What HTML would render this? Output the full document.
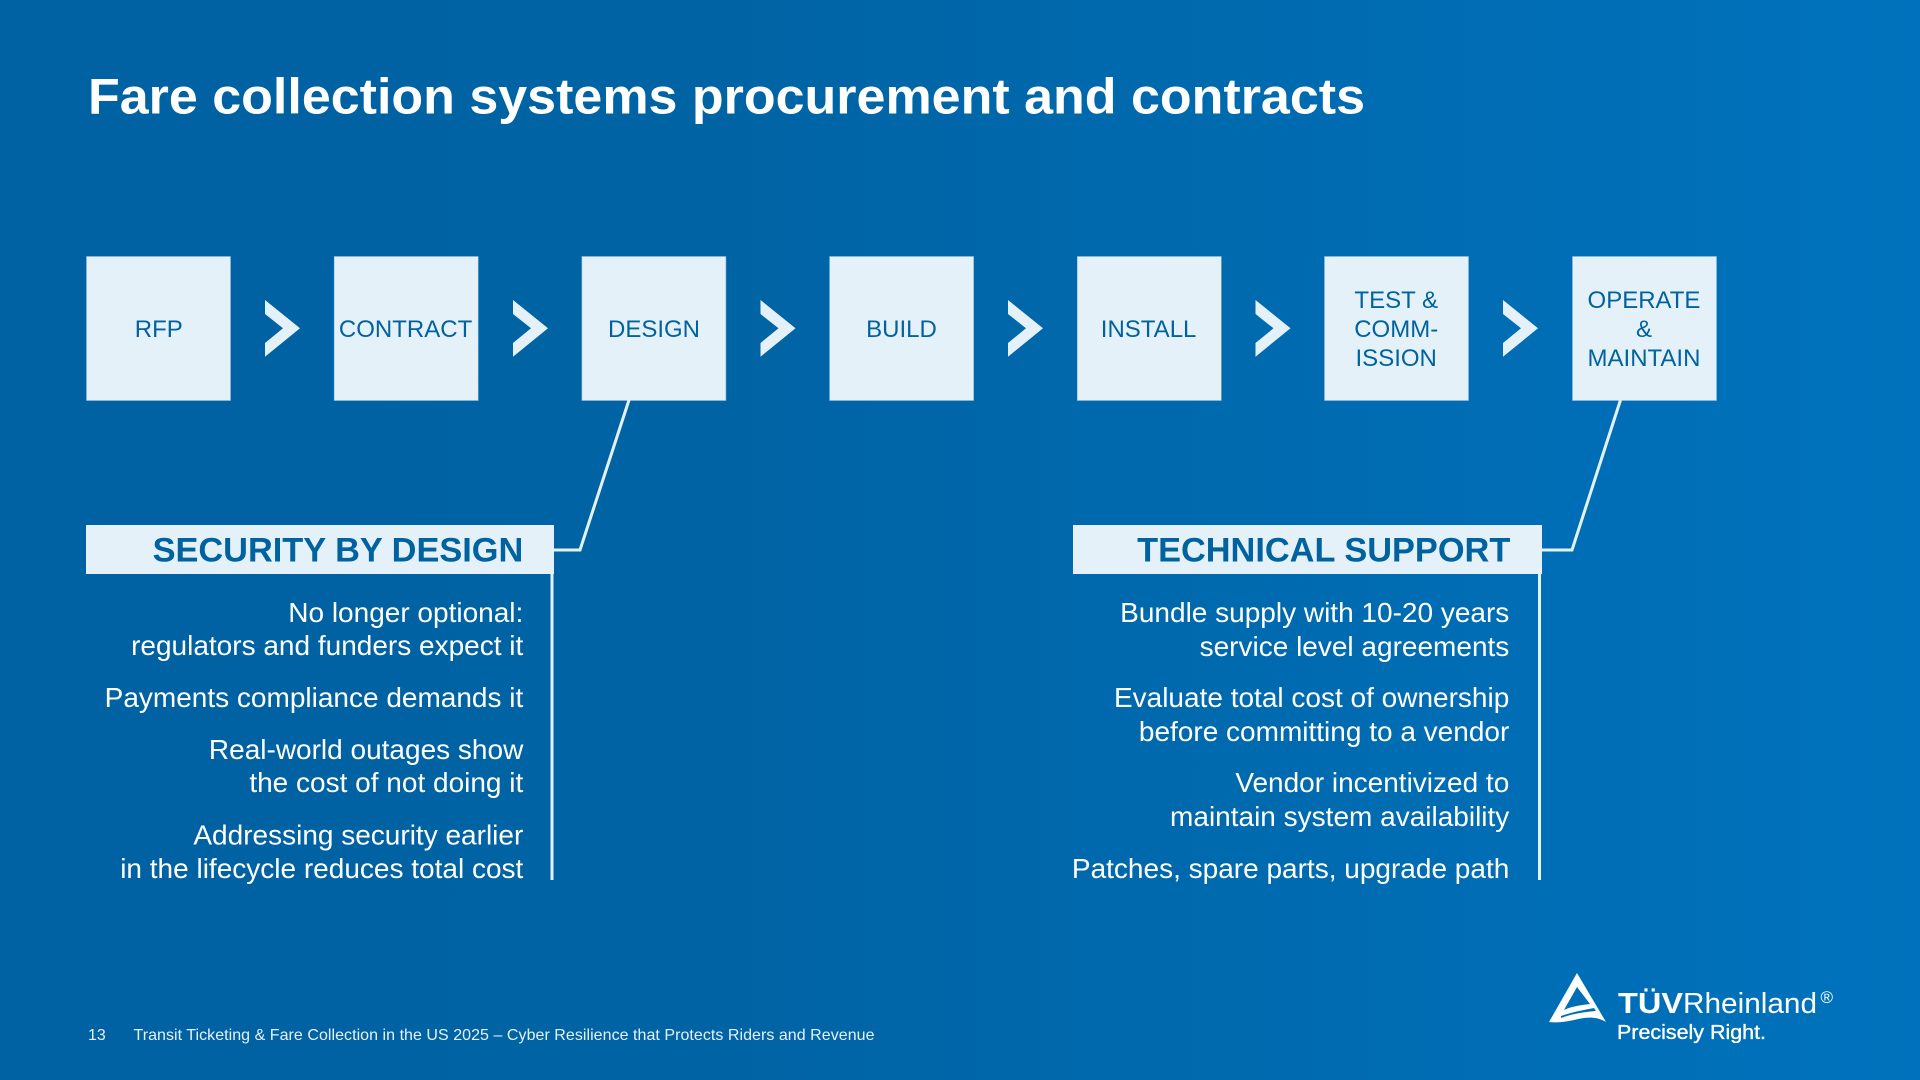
<!DOCTYPE html>
<html lang="en">
<head>
<meta charset="utf-8">
<title>Fare collection systems procurement and contracts</title>
<style>
html,body{margin:0;padding:0;width:1920px;height:1080px;overflow:hidden;background:#0068ac}
svg{display:block;position:absolute;left:0;top:0}
text{font-family:"Liberation Sans",Arial,sans-serif}
.box{fill:#e5f1f9;stroke:#8fbde0;stroke-width:0.6}
.bt{fill:#00639f;font-size:24px;text-anchor:middle}
.chev{fill:#e5f1f9}
.hd{fill:#e5f1f9}
.ht{fill:#00639f;font-size:34.35px;font-weight:bold;text-anchor:end}
.b{fill:#fff;font-size:28px;text-anchor:end}
.ln{fill:none;stroke:#e5f1f9;stroke-width:3}
</style>
</head>
<body>
<svg width="1920" height="1080" viewBox="0 0 1920 1080" xmlns="http://www.w3.org/2000/svg">
<defs>
<linearGradient id="bg" x1="0" y1="0" x2="1" y2="0">
<stop offset="0" stop-color="#0062a2"/>
<stop offset="0.35" stop-color="#0063a3"/>
<stop offset="1" stop-color="#0072bd"/>
</linearGradient>
</defs>
<rect width="1920" height="1080" fill="url(#bg)"/>

<text x="88" y="113.5" fill="#fff" font-size="50" font-weight="bold" textLength="1277" lengthAdjust="spacingAndGlyphs">Fare collection systems procurement and contracts</text>

<rect class="box" x="86.5" y="256.5" width="144" height="144"/>
<rect class="box" x="334.2" y="256.5" width="144" height="144"/>
<rect class="box" x="581.9" y="256.5" width="144" height="144"/>
<rect class="box" x="829.6" y="256.5" width="144" height="144"/>
<rect class="box" x="1077.3" y="256.5" width="144" height="144"/>
<rect class="box" x="1324.5" y="256.5" width="144" height="144"/>
<rect class="box" x="1572.5" y="256.5" width="144" height="144"/>

<text class="bt" x="158.8" y="337">RFP</text>
<text class="bt" x="405.6" y="337">CONTRACT</text>
<text class="bt" x="654" y="337">DESIGN</text>
<text class="bt" x="901.5" y="337">BUILD</text>
<text class="bt" x="1148.6" y="337">INSTALL</text>
<text class="bt" x="1396.2" y="308">TEST &amp;</text>
<text class="bt" x="1396.2" y="337">COMM-</text>
<text class="bt" x="1396.2" y="366">ISSION</text>
<text class="bt" x="1644" y="308">OPERATE</text>
<text class="bt" x="1644" y="337">&amp;</text>
<text class="bt" x="1644" y="366">MAINTAIN</text>

<g class="chev">
<path d="M265 300 L300 328.3 L265 356.7 L265 343 L283 328.3 L265 314 Z"/>
<path d="M513 300 L548 328.3 L513 356.7 L513 343 L531 328.3 L513 314 Z"/>
<path d="M760.5 300 L795.5 328.3 L760.5 356.7 L760.5 343 L778.5 328.3 L760.5 314 Z"/>
<path d="M1008 300 L1043 328.3 L1008 356.7 L1008 343 L1026 328.3 L1008 314 Z"/>
<path d="M1255.5 300 L1290.5 328.3 L1255.5 356.7 L1255.5 343 L1273.5 328.3 L1255.5 314 Z"/>
<path d="M1503 300 L1538 328.3 L1503 356.7 L1503 343 L1521 328.3 L1503 314 Z"/>
</g>

<path class="ln" d="M629 400 L580 550 L553 550"/>
<path class="ln" d="M552 574 L552 880"/>
<path class="ln" d="M1620.5 400 L1572 550 L1541 550"/>
<path class="ln" d="M1539.5 574 L1539.5 880"/>

<rect class="hd" x="86" y="525" width="468" height="49"/>
<rect class="hd" x="1073" y="525" width="469" height="49"/>
<text class="ht" x="523.3" y="561.5">SECURITY BY DESIGN</text>
<text class="ht" x="1510.3" y="561.5">TECHNICAL SUPPORT</text>

<text class="b" x="523.3" y="622">No longer optional:</text>
<text class="b" x="523.3" y="655">regulators and funders expect it</text>
<text class="b" x="523.3" y="707">Payments compliance demands it</text>
<text class="b" x="523.3" y="759">Real-world outages show</text>
<text class="b" x="523.3" y="792">the cost of not doing it</text>
<text class="b" x="523.3" y="844.5">Addressing security earlier</text>
<text class="b" x="523.3" y="878">in the lifecycle reduces total cost</text>

<text class="b" x="1509.3" y="622">Bundle supply with 10-20 years</text>
<text class="b" x="1509.3" y="656">service level agreements</text>
<text class="b" x="1509.3" y="707">Evaluate total cost of ownership</text>
<text class="b" x="1509.3" y="741">before committing to a vendor</text>
<text class="b" x="1509.3" y="792">Vendor incentivized to</text>
<text class="b" x="1509.3" y="826">maintain system availability</text>
<text class="b" x="1509.3" y="878">Patches, spare parts, upgrade path</text>

<text x="88" y="1040" fill="#e5f1f9" font-size="16">13</text>
<text x="133.5" y="1040" fill="#e5f1f9" font-size="16" textLength="741" lengthAdjust="spacing">Transit Ticketing &amp; Fare Collection in the US 2025 – Cyber Resilience that Protects Riders and Revenue</text>

<path fill="#fff" fill-rule="evenodd" d="M1577 973 L1606 1022 C1596 1016 1586 1017 1574 1020 C1565 1022 1556 1023 1549 1022 Z M1577 987 L1564 1010 C1572 1006 1583 1005 1590 1004 Z M1561 1016 C1572 1012 1584 1010 1594 1008 L1596 1011 C1584 1012 1571 1014 1561 1018 Z"/>

<text x="1618" y="1013" fill="#fff" font-size="29" font-weight="bold" textLength="65" lengthAdjust="spacingAndGlyphs">TÜV</text>
<text x="1683" y="1013" fill="#fff" font-size="29" textLength="134" lengthAdjust="spacingAndGlyphs">Rheinland</text>
<text x="1820.5" y="1003" fill="#fff" font-size="17">®</text>
<text x="1617" y="1039" fill="#fff" stroke="#fff" stroke-width="0.35" font-size="20" textLength="149" lengthAdjust="spacingAndGlyphs">Precisely Right.</text>
</svg>
</body>
</html>
